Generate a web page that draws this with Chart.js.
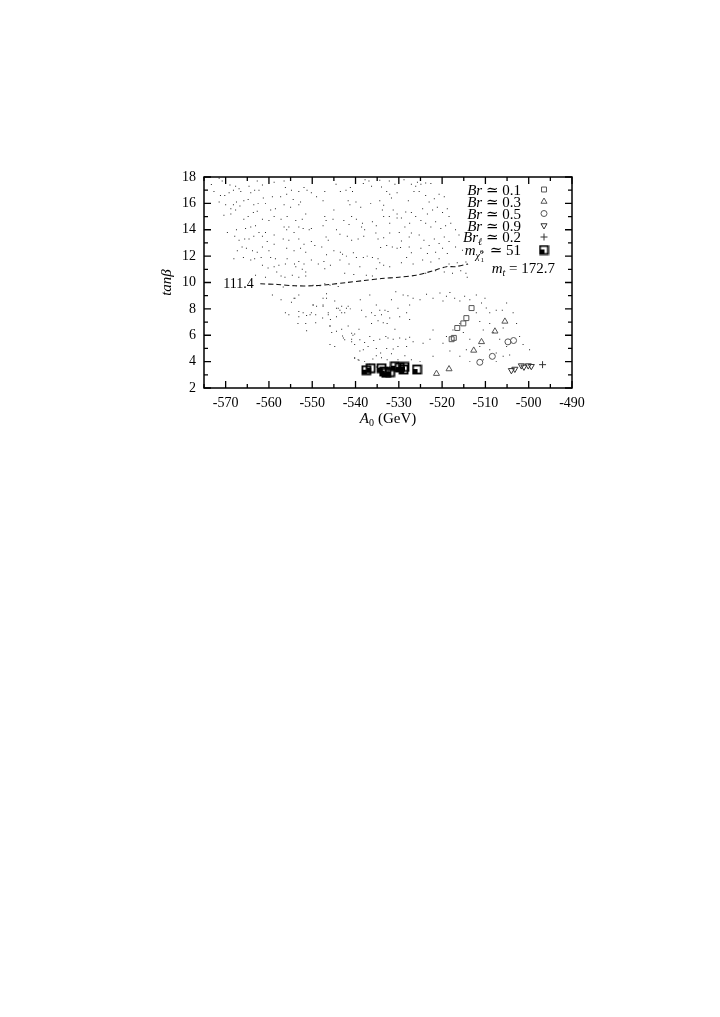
<!DOCTYPE html>
<html>
<head>
<meta charset="utf-8">
<script src="https://cdn.jsdelivr.net/npm/chart.js@4.4.1/dist/chart.umd.min.js"></script>
<style>
	html, body { margin: 0; padding: 0; background: #fff; }
	#wrap { width: 720px; height: 1017px; }
</style>
</head>
<body>
<div id="wrap"><canvas id="myChart" width="720" height="1017"></canvas></div>
<script>
const xTicks = [-570, -560, -550, -540, -530, -520, -510, -500, -490]
const yTicks = [2, 4, 6, 8, 10, 12, 14, 16, 18]

// scan points (tiny dots)
const cloudPoints = [
	[-573.3,17.44],[-571.5,17.9],[-570.8,17.7],[-569.0,17.4],[-567.7,17.3],[-566.9,17.1],[-564.6,17.3],[-562.7,17.7],
	[-561.5,17.4],[-558.8,17.6],[-556.5,17.7],[-556.2,17.2],[-554.8,17.0],[-553.1,16.9],[-551.9,17.2],[-551.2,17.0],
	[-572.7,16.9],[-571.2,16.6],[-570.2,16.6],[-569.2,16.8],[-568.2,17.0],[-566.5,16.9],[-564.2,16.8],[-563.3,17.0],
	[-562.3,17.0],[-561.3,16.4],[-559.2,16.5],[-557.3,16.5],[-555.9,16.7],[-554.4,16.3],[-552.7,16.1],[-571.5,16.1],
	[-570.0,15.9],[-568.8,15.6],[-568.2,15.9],[-567.5,16.1],[-566.7,15.8],[-565.8,16.2],[-564.8,16.3],[-563.5,15.9],
	[-562.5,16.0],[-560.8,16.0],[-559.6,15.5],[-558.5,15.6],[-556.5,15.9],[-555.0,15.7],[-553.1,15.9],[-551.5,15.2],
	[-570.4,15.1],[-568.8,15.2],[-567.7,15.5],[-565.8,14.8],[-564.8,15.0],[-563.6,15.3],[-562.7,15.4],[-561.5,14.8],
	[-560.0,14.7],[-558.8,15.0],[-557.2,14.8],[-555.8,15.0],[-553.8,14.7],[-552.3,14.8],[-569.6,13.8],[-567.5,14.0],
	[-565.4,14.1],[-564.2,14.2],[-563.1,14.3],[-562.3,13.8],[-560.8,13.8],[-558.8,13.6],[-556.5,14.2],[-555.9,14.0],
	[-555.4,14.2],[-554.2,13.8],[-553.1,14.2],[-552.1,14.1],[-550.7,14.0],[-567.9,13.5],[-566.9,13.2],[-565.6,13.3],
	[-564.6,13.3],[-563.5,13.5],[-561.5,13.5],[-560.4,13.1],[-558.8,12.9],[-556.7,13.3],[-555.4,13.2],[-553.1,13.3],
	[-551.9,12.9],[-567.3,12.4],[-566.2,12.7],[-565.2,12.6],[-563.8,12.4],[-562.7,12.3],[-561.5,12.7],[-560.0,12.4],
	[-555.9,12.6],[-554.2,12.4],[-552.7,12.6],[-551.5,12.3],[-568.1,11.8],[-565.9,11.9],[-564.2,11.7],[-563.3,11.8],
	[-561.8,11.9],[-559.6,11.9],[-558.5,11.8],[-555.8,11.8],[-554.1,11.4],[-553.1,11.6],[-551.9,11.4],[-561.5,11.3],
	[-560.2,11.1],[-558.8,11.2],[-557.7,11.3],[-556.2,11.4],[-553.8,11.2],[-552.3,11.0],[-551.5,10.8],[-563.1,10.55],
	[-560.8,10.4],[-558.2,10.8],[-557.2,10.5],[-556.3,10.4],[-554.6,10.55],[-553.1,10.4],[-551.5,10.5],
	[-537.8,17.8],[-536.9,17.7],[-534.4,17.75],[-532.2,17.7],[-530.9,17.45],[-528.8,17.8],[-527.1,17.45],[-526.1,17.3],
	[-550.2,16.8],[-549.0,16.5],[-547.1,16.9],[-544.5,17.45],[-543.5,16.9],[-542.2,17.0],[-541.2,17.2],[-540.7,16.9],
	[-538.2,17.5],[-536.3,17.3],[-534.0,17.25],[-532.8,16.9],[-532.1,16.7],[-531.7,16.4],[-530.4,16.8],[-527.8,16.2],
	[-526.5,16.9],[-547.5,16.2],[-545.0,15.5],[-541.7,16.2],[-541.3,15.9],[-539.9,16.1],[-538.8,15.7],[-536.5,16.0],
	[-534.4,16.2],[-533.8,15.5],[-533.5,15.85],[-531.3,15.5],[-530.4,15.2],[-528.4,15.35],[-527.1,15.3],[-526.1,15.0],
	[-547.1,15.0],[-546.8,14.7],[-545.2,14.8],[-542.7,14.7],[-540.9,15.0],[-541.5,14.4],[-539.8,14.8],[-538.4,14.5],
	[-538.6,14.2],[-537.9,14.0],[-536.1,14.6],[-535.2,14.3],[-533.5,15.0],[-532.2,15.0],[-532.1,14.5],[-530.4,14.9],
	[-529.4,14.9],[-528.6,14.2],[-527.5,14.5],[-550.2,14.1],[-547.5,14.3],[-546.8,13.45],[-546.3,13.2],[-544.4,14.0],
	[-543.6,13.65],[-541.9,13.5],[-540.9,13.2],[-539.4,13.3],[-538.1,13.5],[-535.3,13.75],[-534.8,13.3],[-533.5,13.4],
	[-532.1,13.75],[-529.9,13.8],[-529.4,13.15],[-527.6,13.45],[-527.1,13.75],[-550.2,13.1],[-549.4,12.8],[-547.8,12.7],
	[-546.7,12.1],[-545.0,12.4],[-543.5,12.3],[-543.0,12.15],[-542.1,12.0],[-540.5,12.25],[-539.8,11.9],[-538.2,11.9],
	[-537.3,12.0],[-536.1,11.9],[-534.8,11.8],[-534.2,12.65],[-532.8,12.8],[-531.5,12.7],[-530.4,12.6],[-529.6,12.65],
	[-527.6,12.7],[-527.1,12.25],[-550.2,11.7],[-548.6,11.4],[-547.3,11.6],[-547.1,11.05],[-545.8,11.3],[-543.6,11.7],
	[-542.5,10.7],[-541.5,11.4],[-540.4,10.6],[-539.0,11.2],[-537.5,10.55],[-536.1,10.5],[-535.2,11.05],[-534.4,11.5],
	[-533.5,11.3],[-532.1,11.2],[-529.4,11.5],[-528.2,11.9],[-526.7,11.4],
	[-525.7,17.6],[-524.9,17.45],[-523.8,17.55],[-522.6,17.5],[-525.3,16.9],[-523.8,16.6],[-523.0,16.1],[-521.8,16.35],
	[-520.7,16.7],[-519.5,16.5],[-524.5,15.6],[-523.4,15.2],[-522.2,15.5],[-521.1,15.7],[-519.9,15.3],[-518.8,15.6],
	[-518.4,15.0],[-524.9,14.7],[-523.8,14.5],[-522.6,14.2],[-521.5,14.6],[-520.3,14.1],[-519.2,14.3],[-518.0,14.5],
	[-516.9,14.0],[-525.3,13.6],[-524.2,13.2],[-523.0,12.8],[-521.8,13.3],[-520.7,12.95],[-519.5,13.45],[-518.4,13.1],
	[-516.1,13.6],[-524.9,12.6],[-523.4,12.2],[-521.5,12.3],[-519.9,12.6],[-518.8,12.2],[-516.9,12.7],[-515.3,12.45],
	[-524.5,11.7],[-522.6,11.55],[-520.7,11.8],[-518.4,11.4],[-516.5,11.5],[-514.5,11.55],[-523.8,10.7],[-521.5,10.9],
	[-519.5,10.8],[-517.6,10.7],[-515.7,10.9],[-514.5,10.7],[-514.2,10.4],
	[-559.2,9.05],[-557.2,8.7],[-556.7,9.65],[-554.8,8.5],[-554.2,8.8],[-553.1,9.05],[-556.2,7.7],[-555.4,7.55],
	[-553.1,7.8],[-552.1,7.7],[-551.3,7.5],[-550.5,7.55],[-553.1,7.4],[-553.3,6.9],[-551.5,6.9],[-551.3,6.35],
	[-554.0,8.8],[-549.8,8.3],[-549.2,7.55],[-547.5,8.8],[-546.7,9.15],[-547.5,8.2],[-546.3,7.7],[-545.9,6.7],
	[-545.5,6.2],[-544.4,8.05],[-543.6,7.9],[-543.2,8.2],[-542.5,7.7],[-541.7,6.7],[-540.9,5.7],[-545.9,5.3],
	[-544.8,5.15],[-542.8,5.8],[-540.2,4.3],[-539.4,4.15],[-540.6,6.0],
	[-549.8,9.8],[-548.2,9.75],[-547.1,9.9],[-545.9,9.8],[-544.0,9.7],[-549.8,8.3],[-549.0,8.2],[-547.5,8.3],
	[-546.7,8.8],[-544.8,8.6],[-544.0,8.05],[-543.2,7.7],[-542.1,8.05],[-541.7,8.2],[-541.2,8.0],[-538.9,8.7],
	[-538.6,7.9],[-536.7,9.05],[-536.3,7.7],[-535.2,8.3],[-534.4,7.9],[-534.0,7.55],[-533.2,7.9],[-532.5,7.8],
	[-531.7,8.7],[-530.7,9.3],[-530.2,8.05],[-529.0,9.05],[-527.9,9.0],[-527.5,8.3],[-526.7,8.8],[-550.2,7.7],
	[-549.2,6.95],[-547.6,7.3],[-546.3,7.55],[-545.8,7.2],[-544.4,7.4],[-545.9,6.7],[-543.2,6.45],[-544.4,6.3],
	[-540.9,6.15],[-540.2,6.1],[-539.2,6.45],[-537.6,7.4],[-536.3,6.9],[-535.5,7.5],[-534.8,7.1],[-533.6,6.95],
	[-532.7,6.9],[-532.1,7.3],[-530.9,6.45],[-529.8,7.4],[-528.2,7.7],[-527.5,7.2],[-543.0,5.95],[-542.5,5.65],
	[-540.9,5.5],[-539.0,5.65],[-537.9,5.45],[-536.7,5.9],[-535.8,5.6],[-534.4,5.7],[-533.0,5.9],[-532.5,5.8],
	[-531.3,5.7],[-529.8,5.8],[-528.4,5.7],[-527.5,5.85],[-526.7,5.5],[-540.2,5.3],[-539.0,4.8],[-538.2,4.9],
	[-537.1,5.15],[-535.2,5.0],[-534.2,4.65],[-532.8,5.0],[-531.3,4.95],[-530.2,5.15],[-528.2,5.15],[-540.2,4.25],
	[-539.2,4.1],[-537.9,4.0],[-536.0,4.2],[-535.2,4.45],[-534.0,4.3],[-532.7,4.15],[-531.7,4.6],[-530.2,4.15],
	[-528.6,4.45],[-527.1,4.15],[-536.7,3.8],[-535.2,3.6],[-533.8,3.5],[-532.1,3.6],
	[-525.1,8.7],[-523.6,9.1],[-522.1,8.8],[-520.5,9.2],[-519.8,8.6],[-519.0,8.95],[-518.2,9.25],[-517.1,8.8],
	[-515.9,8.6],[-514.8,8.95],[-513.6,8.7],[-512.1,9.05],[-510.9,8.45],[-510.1,8.8],[-509.8,8.06],[-509.0,7.7],
	[-507.5,7.9],[-506.1,7.9],[-505.1,8.45],[-503.6,7.7],[-502.8,6.9],[-502.1,5.9],[-501.3,5.3],[-499.8,4.9],
	[-512.1,7.7],[-511.3,7.05],[-510.5,6.4],[-509.0,6.9],[-508.2,6.2],[-506.7,5.7],[-505.9,6.55],[-505.1,5.15],
	[-515.9,6.9],[-515.1,6.2],[-513.6,5.7],[-514.4,4.9],[-517.5,6.4],[-519.0,5.9],[-519.8,5.4],[-522.1,6.4],
	[-522.8,5.7],[-524.4,5.4],[-511.3,5.15],[-509.0,4.9],[-507.5,4.65],[-515.9,4.4],[-513.6,4.0],[-510.5,4.15],
	[-507.5,4.0],[-505.9,4.4],[-504.4,4.5],[-518.2,4.8],[-522.1,4.4],[-525.1,4.0]
]

// contour labelled 111.4
const contourX = [-562, -558, -554, -550, -546, -542, -538, -534, -530, -526, -522, -519, -517, -514]
const contourY = [9.9, 9.85, 9.75, 9.75, 9.85, 10.0, 10.15, 10.3, 10.4, 10.55, 10.9, 11.2, 11.2, 11.4]

const br01 = [[-513.2,8.06],[-514.4,7.3],[-515.1,6.9],[-516.5,6.55],[-517.8,5.7],[-517.3,5.8]]
const br03 = [[-505.5,7.05],[-507.8,6.3],[-510.9,5.5],[-512.7,4.85],[-518.4,3.44],[-521.3,3.09]]
const br05 = [[-504.8,5.5],[-503.5,5.6],[-508.4,4.4],[-511.3,3.95]]
const br09 = [[-504.0,3.34],[-503.2,3.44],[-501.7,3.7],[-501.1,3.6],[-500.1,3.7],[-499.4,3.65]]
const brL02 = [[-496.8,3.77]]
const mChi51 = [[-537.5,3.35],[-536.5,3.5],[-534.0,3.5],[-533.4,3.25],[-532.9,3.15],[-532.0,3.2],
	[-530.9,3.65],[-529.8,3.55],[-528.9,3.4],[-528.7,3.6],[-525.8,3.4]]

const FONT = "'Liberation Serif', 'DejaVu Serif', serif"

const toXY = (arr) => arr.map(p => ({ x: p[0], y: p[1] }))

// half filled bold square marker
function makeChiMarker() {
	const c = document.createElement('canvas')
	c.width = 11
	c.height = 11
	const g = c.getContext('2d')
	g.fillStyle = '#000'
	g.fillRect(2, 5, 4, 4)
	g.strokeStyle = '#000'
	g.lineWidth = 1.8
	g.strokeRect(1.5, 1.5, 8, 8)
	return c
}
const chiMarker = makeChiMarker()

// draw text made of runs (italic / subscripts)
function runsWidth(ctx, runs) {
	let w = 0
	runs.forEach(r => {
		ctx.font = (r.it ? 'italic ' : '') + r.s + 'px ' + FONT
		w += ctx.measureText(r.t).width + (r.gap || 0)
	})
	return w
}
function drawRuns(ctx, runs, x, y, align) {
	let w = runsWidth(ctx, runs)
	let cx = align === 'right' ? x - w : (align === 'center' ? x - w / 2 : x)
	ctx.textBaseline = 'alphabetic'
	ctx.textAlign = 'left'
	runs.forEach(r => {
		ctx.font = (r.it ? 'italic ' : '') + r.s + 'px ' + FONT
		ctx.fillText(r.t, cx, y + (r.dy || 0))
		cx += ctx.measureText(r.t).width + (r.gap || 0)
	})
}

const framePlugin = {
	id: 'frame',
	afterDraw(chart) {
		const ctx = chart.ctx
		const xs = chart.scales.x
		const ys = chart.scales.y
		const a = chart.chartArea
		ctx.save()
		ctx.strokeStyle = '#000'
		ctx.lineWidth = 1.5
		ctx.strokeRect(a.left, a.top, a.right - a.left, a.bottom - a.top)
		ctx.lineWidth = 1.3
		ctx.beginPath()
		for (let v = -575; v <= -490; v += 5) {
			const px = xs.getPixelForValue(v)
			const len = (v % 10 === 0) ? 7 : 4
			ctx.moveTo(px, a.bottom); ctx.lineTo(px, a.bottom - len)
			ctx.moveTo(px, a.top); ctx.lineTo(px, a.top + len)
		}
		for (let v = 2; v <= 18; v += 1) {
			const py = ys.getPixelForValue(v)
			const len = (v % 2 === 0) ? 7 : 4
			ctx.moveTo(a.left, py); ctx.lineTo(a.left + len, py)
			ctx.moveTo(a.right, py); ctx.lineTo(a.right - len, py)
		}
		ctx.stroke()

		ctx.fillStyle = '#000'
		// axis titles
		drawRuns(ctx, [{ t: 'A', it: true, s: 15 }, { t: '0', s: 10, dy: 3, gap: 4 }, { t: '(GeV)', s: 15 }],
			(a.left + a.right) / 2, 423, 'center')
		ctx.save()
		ctx.translate(171, (a.top + a.bottom) / 2)
		ctx.rotate(-Math.PI / 2)
		drawRuns(ctx, [{ t: 'tanβ', it: true, s: 15 }], 0, 0, 'center')
		ctx.restore()

		// contour label
		drawRuns(ctx, [{ t: '111.4', s: 14 }], xs.getPixelForValue(-563.5), ys.getPixelForValue(10) + 5, 'right')

		// legend
		const tx = 521
		const sx = 544
		const rows = [189.5, 201.5, 213.5, 225.5, 237, 250]
		const labels = [
			[{ t: 'Br', it: true, s: 15 }, { t: ' ≃ 0.1', s: 15 }],
			[{ t: 'Br', it: true, s: 15 }, { t: ' ≃ 0.3', s: 15 }],
			[{ t: 'Br', it: true, s: 15 }, { t: ' ≃ 0.5', s: 15 }],
			[{ t: 'Br', it: true, s: 15 }, { t: ' ≃ 0.9', s: 15 }],
			[{ t: 'Br', it: true, s: 15 }, { t: 'ℓ', it: true, s: 10, dy: 3 }, { t: ' ≃ 0.2', s: 15 }],
			[{ t: 'm', it: true, s: 15 }, { t: 'χ̃', it: true, s: 10, dy: 4 }, { t: '0', s: 7, dy: -1, gap: -3 }, { t: '1', s: 7, dy: 7, gap: 2 }, { t: ' ≃ 51', s: 15 }]
		]
		labels.forEach((r, i) => drawRuns(ctx, r, tx, rows[i] + 5, 'right'))
		drawRuns(ctx, [{ t: 'm', it: true, s: 15 }, { t: 't', it: true, s: 10, dy: 3 }, { t: ' = 172.7', s: 15 }], 555, 273, 'right')

		const H = Chart.helpers
		ctx.lineWidth = 1
		ctx.strokeStyle = '#555'
		ctx.fillStyle = 'rgba(0,0,0,0)'
		H.drawPoint(ctx, { pointStyle: 'rect', radius: 3.5, rotation: 0, borderWidth: 1 }, sx, rows[0])
		H.drawPoint(ctx, { pointStyle: 'triangle', radius: 3.5, rotation: 0, borderWidth: 1 }, sx, rows[1])
		H.drawPoint(ctx, { pointStyle: 'circle', radius: 3, rotation: 0, borderWidth: 1 }, sx, rows[2])
		ctx.strokeStyle = '#333'
		H.drawPoint(ctx, { pointStyle: 'triangle', radius: 3.5, rotation: 180, borderWidth: 1 }, sx, rows[3])
		H.drawPoint(ctx, { pointStyle: 'cross', radius: 3.5, rotation: 0, borderWidth: 1 }, sx, rows[4])
		ctx.drawImage(chiMarker, sx - 5.5, rows[5] - 5.5)
		ctx.restore()
	}
}

const markerBase = { showLine: false, borderWidth: 1, backgroundColor: 'rgba(0,0,0,0)' }

let cfg = {
	type: 'scatter',
	data: {
		datasets: [
			{
				label: 'scan',
				data: toXY(cloudPoints),
				pointStyle: 'rect',
				pointRadius: 0.7,
				borderWidth: 0,
				backgroundColor: '#222',
				order: 9
			},
			{
				label: '111.4',
				data: contourX.map((x, i) => ({ x: x, y: contourY[i] })),
				showLine: true,
				pointRadius: 0,
				borderColor: '#111',
				borderWidth: 1.1,
				borderDash: [5, 3],
				tension: 0.3,
				order: 8
			},
			{ ...markerBase, label: 'Br 0.1', data: toXY(br01), pointStyle: 'rect', pointRadius: 3.5, borderColor: '#555' },
			{ ...markerBase, label: 'Br 0.3', data: toXY(br03), pointStyle: 'triangle', pointRadius: 3.5, borderColor: '#555' },
			{ ...markerBase, label: 'Br 0.5', data: toXY(br05), pointStyle: 'circle', pointRadius: 3, borderColor: '#555' },
			{ ...markerBase, label: 'Br 0.9', data: toXY(br09), pointStyle: 'triangle', rotation: 180, pointRadius: 3.5, borderColor: '#333' },
			{ ...markerBase, label: 'Brl 0.2', data: toXY(brL02), pointStyle: 'cross', pointRadius: 3.5, borderColor: '#333' },
			{ ...markerBase, label: 'mchi 51', data: toXY(mChi51), pointStyle: chiMarker, pointRadius: 5 }
		]
	},
	options: {
		responsive: false,
		animation: false,
		devicePixelRatio: 1,
		layout: { padding: { left: 144, right: 148, top: 177, bottom: 569 } },
		plugins: {
			legend: { display: false },
			tooltip: { enabled: false }
		},
		scales: {
			x: {
				type: 'linear',
				min: -575,
				max: -490,
				grid: { display: false, drawTicks: false },
				border: { display: false },
				afterBuildTicks: (s) => { s.ticks = xTicks.map(v => ({ value: v })) },
				afterFit: (s) => { s.height = 60 },
				ticks: { color: '#000', padding: 7, maxRotation: 0, font: { family: FONT, size: 14 } }
			},
			y: {
				type: 'linear',
				min: 2,
				max: 18,
				grid: { display: false, drawTicks: false },
				border: { display: false },
				afterBuildTicks: (s) => { s.ticks = yTicks.map(v => ({ value: v })) },
				afterFit: (s) => { s.width = 60 },
				ticks: { color: '#000', padding: 8, font: { family: FONT, size: 14 } }
			}
		}
	},
	plugins: [framePlugin]
}

new Chart('myChart', cfg)
</script>
</body>
</html>
